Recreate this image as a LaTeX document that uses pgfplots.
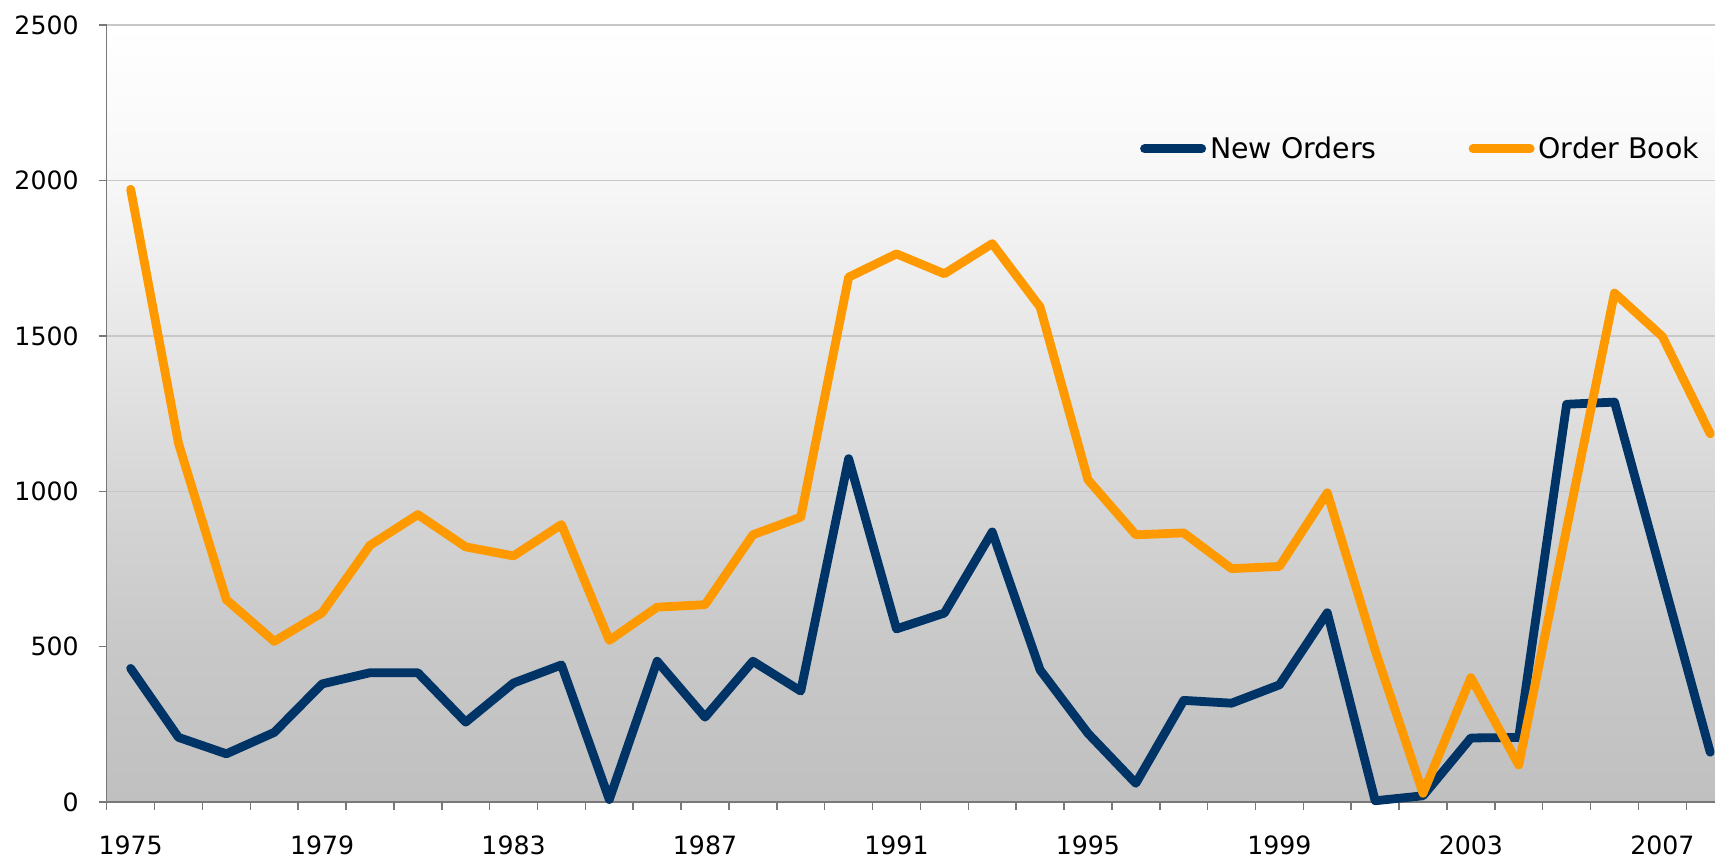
\documentclass[border=0pt]{standalone}
\usepackage{fontspec}
\setmainfont{DejaVu Sans}
\usepackage{pgfplots}
\usepackage{pgfplotstable}
\pgfplotsset{compat=1.18}
\definecolor{myNavy}{RGB}{0,51,102}
\definecolor{myOrange}{RGB}{255,153,0}
\definecolor{bgGray}{RGB}{192,192,192}
\definecolor{cA}{RGB}{200,200,200}
\definecolor{cB}{RGB}{214,214,214}
\definecolor{cC}{RGB}{231,231,231}
\definecolor{cD}{RGB}{247,247,247}
\definecolor{gridC}{RGB}{200,200,200}
\definecolor{axC}{RGB}{120,120,120}
\pgfdeclareverticalshading{bgshade}{100bp}{color(0bp)=(bgGray); color(25bp)=(bgGray); color(35bp)=(cA); color(45bp)=(cB); color(55bp)=(cC); color(65bp)=(cD); color(75bp)=(white); color(100bp)=(white)}

\pgfplotstableread{
year neworders orderbook
1975 430 1972
1976 208 1154
1977 155 651
1978 224 517
1979 380 609
1980 416 826
1981 416 925
1982 257 821
1983 383 792
1984 441 893
1985 8 520
1986 453 627
1987 273 635
1988 453 860
1989 357 917
1990 1105 1689
1991 557 1764
1992 608 1700
1993 869 1797
1994 425 1593
1995 221 1037
1996 60 860
1997 327 866
1998 318 751
1999 377 758
2000 609 995
2001 4 488
2002 20 28
2003 206 400
2004 208 119
2005 1280 880
2006 1287 1638
2007 723 1498
2008 160 1185
}\data

\begin{document}
\begin{tikzpicture}
\begin{axis}[
  scale only axis, width=804.15pt, height=388.4pt,
  xmin=1974.5, xmax=2008.1, ymin=0, ymax=2500,
  clip=false,
  axis x line*=bottom, axis y line*=left,
  axis line style={draw=axC, line width=0.75pt},
  axis background/.style={shading=bgshade},
  xtick={1974.5,1975.5,...,2007.5},
  xticklabels={},
  extra x ticks={1975,1979,...,2007},
  extra x tick style={major tick length=0pt, xticklabel style={inner sep=0pt, anchor=north, yshift=-16.85pt}},
  ytick={0,500,...,2500},
  ymajorgrids, grid style={draw=gridC, line width=0.75pt},
  tick align=outside,
  major tick length=4pt,
  major tick style={draw=axC, line width=0.75pt},
  ticklabel style={font=\fontsize{12.6}{15}\selectfont},
  /pgf/number format/assume math mode=true,
  /pgf/number format/set thousands separator={},
  yticklabel style={inner sep=0pt, anchor=east, xshift=-9.85pt},
  legend columns=2,
  legend style={at={(axis cs:1996.09,2102)}, anchor=west, draw=none, fill=none,
    inner sep=0pt, outer sep=0pt, font=\fontsize{14.2}{17}\selectfont,
    nodes={inner sep=0pt},
    /tikz/every even column/.append style={column sep=46pt},
    /tikz/every odd column/.append style={column sep=2pt}},
  legend image code/.code={\draw[#1, line width=4.4pt, line cap=round] (2.2pt,0pt) -- (30.8pt,0pt);},
]
\coordinate (bl) at (rel axis cs:0,0);
\coordinate (tr) at (rel axis cs:1,1);
\addplot[myNavy, line width=4.4pt, line join=round, line cap=round, mark=none] table[x=year, y=neworders] {\data};
\addlegendentry{New Orders}
\addplot[myOrange, line width=4.4pt, line join=round, line cap=round, mark=none] table[x=year, y=orderbook] {\data};
\addlegendentry{Order Book}
\end{axis}
\pgfresetboundingbox
\path ([xshift=-53.35pt,yshift=-30pt]bl) rectangle ([yshift=12.6pt]tr);
\end{tikzpicture}
\end{document}
